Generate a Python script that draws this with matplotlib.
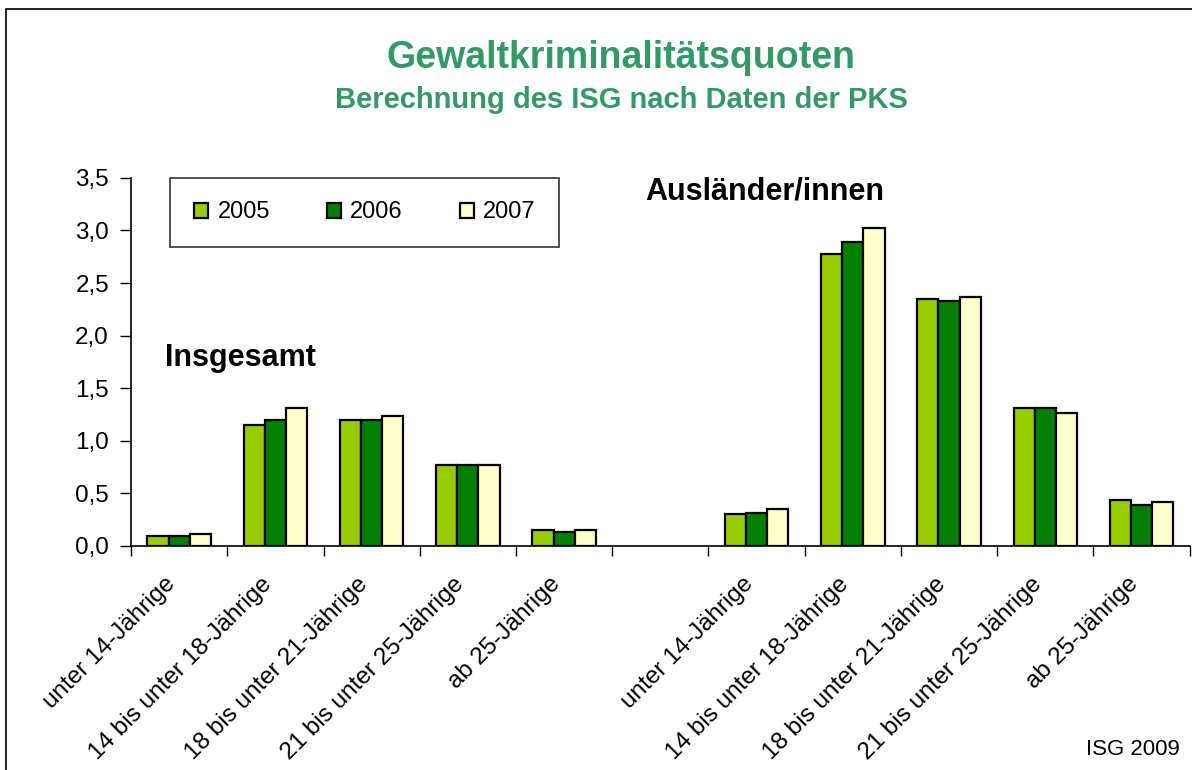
import numpy as np
import matplotlib
matplotlib.use("Agg")
import matplotlib.pyplot as plt
from matplotlib.patches import Rectangle
from matplotlib.transforms import ScaledTranslation

plt.rcParams["font.family"] = ["Liberation Sans", "DejaVu Sans"]

# ---- Daten ----
kategorien = ["unter 14-Jährige", "14 bis unter 18-Jährige", "18 bis unter 21-Jährige",
              "21 bis unter 25-Jährige", "ab 25-Jährige", "",
              "unter 14-Jährige", "14 bis unter 18-Jährige", "18 bis unter 21-Jährige",
              "21 bis unter 25-Jährige", "ab 25-Jährige"]
jahre = ["2005", "2006", "2007"]
werte_2005 = [0.09, 1.15, 1.20, 0.77, 0.15, np.nan, 0.30, 2.78, 2.35, 1.31, 0.44]
werte_2006 = [0.09, 1.20, 1.20, 0.77, 0.13, np.nan, 0.31, 2.89, 2.33, 1.31, 0.39]
werte_2007 = [0.11, 1.31, 1.24, 0.77, 0.15, np.nan, 0.35, 3.02, 2.37, 1.26, 0.42]
farben = ["#99CC00", "#008000", "#FFFFCC"]

fig = plt.figure(figsize=(11.92, 7.70), dpi=100)
ax = fig.add_axes([0.110, 0.291, 0.888, 0.478])

x = np.arange(len(kategorien))
breite = 0.22
for i, (werte, farbe, jahr) in enumerate(zip([werte_2005, werte_2006, werte_2007], farben, jahre)):
    ax.bar(x + (i - 1) * breite, werte, breite, color=farbe, edgecolor="black",
           linewidth=1.6, label=jahr, zorder=3)

ax.set_xlim(-0.5, len(kategorien) - 0.5)
ax.set_ylim(0, 3.5)
ax.set_yticks(np.arange(0, 3.51, 0.5))
ax.set_yticklabels([f"{v:.1f}".replace(".", ",") for v in np.arange(0, 3.51, 0.5)], fontsize=17.5)
ax.tick_params(axis="y", direction="out", length=8, width=1, pad=8)

# Kategorien-Labels ohne Ticks, Ticks zwischen den Kategorien
ax.set_xticks(x)
ax.set_xticklabels(kategorien, rotation=45, ha="right", va="center",
                   rotation_mode="anchor", fontsize=17.5)
ax.tick_params(axis="x", which="major", length=0, pad=25)
versatz = ScaledTranslation(-7 / 100, 0, fig.dpi_scale_trans)
for lab in ax.get_xticklabels():
    lab.set_transform(lab.get_transform() + versatz)
ax.set_xticks(np.arange(-0.5, len(kategorien) + 0.5, 1), minor=True)
ax.tick_params(axis="x", which="minor", direction="out", length=7, width=1)

for s in ["top", "right"]:
    ax.spines[s].set_visible(False)
ax.spines["left"].set_linewidth(1.2)
ax.spines["bottom"].set_linewidth(1.2)

leg = ax.legend(loc="upper left", bbox_to_anchor=(0.037, 1.0), ncol=3, fontsize=17,
                frameon=True, fancybox=False, edgecolor="black", borderpad=1.0,
                borderaxespad=0, handlelength=0.6, handleheight=0.6, handletextpad=0.4,
                columnspacing=2.4)
leg.get_frame().set_linewidth(1.2)

ax.text(0.032, 0.511, "Insgesamt", transform=ax.transAxes, fontsize=22, fontweight="bold",
        va="center")
ax.text(0.486, 0.962, "Ausländer/innen", transform=ax.transAxes, fontsize=22, fontweight="bold",
        va="center")

fig.text(0.521, 0.925, "Gewaltkriminalitätsquoten", ha="center", va="center",
         fontsize=27, fontweight="bold", color="#339966")
fig.text(0.521, 0.870, "Berechnung des ISG nach Daten der PKS", ha="center", va="center",
         fontsize=21, fontweight="bold", color="#339966")
fig.text(0.99, 0.026, "ISG 2009", ha="right", va="center", fontsize=16)

# Rahmen um das Diagramm
fig.patches.append(Rectangle((6 / 1192, -0.05), 1.1, 1 - 9 / 770 + 0.05, transform=fig.transFigure,
                             fill=False, edgecolor="black", linewidth=1.2))

fig.savefig("out.png", dpi=100)
